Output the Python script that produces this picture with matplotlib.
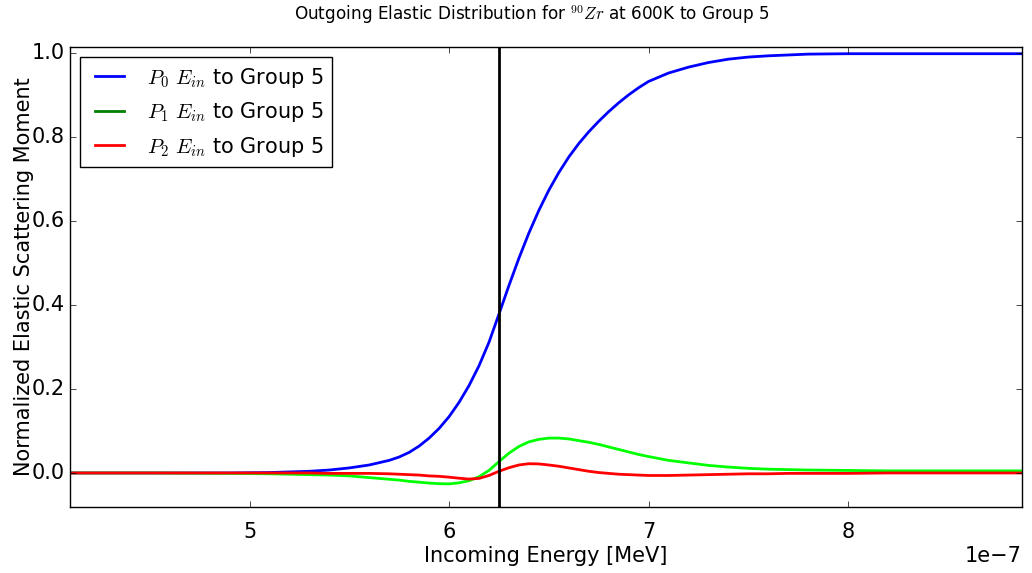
import matplotlib
matplotlib.use("Agg")
import matplotlib.pyplot as plt
from matplotlib.lines import Line2D
import numpy as np

plt.style.use("classic")
plt.rcParams["mathtext.fontset"] = "cm"
plt.rcParams["figure.facecolor"] = "white"
plt.rcParams["savefig.facecolor"] = "white"
plt.rcParams["font.size"] = 15
plt.rcParams["xtick.labelsize"] = 15
plt.rcParams["ytick.labelsize"] = 15
plt.rcParams["axes.labelsize"] = 15
plt.rcParams["xtick.major.pad"] = 11

# Incoming energy grid, in units of 1e-7 MeV
energy_e7 = [4.10, 4.50, 4.90, 5.10, 5.30, 5.40, 5.50, 5.60, 5.70, 5.75,
             5.80, 5.85, 5.90, 5.95, 6.00, 6.05, 6.10, 6.15, 6.20, 6.25,
             6.30, 6.35, 6.40, 6.45, 6.50, 6.55, 6.60, 6.65, 6.70, 6.75,
             6.80, 6.85, 6.90, 6.95, 7.00, 7.10, 7.20, 7.30, 7.40, 7.50,
             7.60, 7.70, 7.80, 8.00, 8.20, 8.40, 8.60, 8.87]

# Legendre moments of the elastic transfer into group 5
p0_moment = [0.000, 0.000, 0.000, 0.001, 0.004, 0.007, 0.012, 0.019, 0.030, 0.038,
             0.049, 0.064, 0.083, 0.106, 0.134, 0.168, 0.208, 0.255, 0.311, 0.378,
             0.446, 0.511, 0.571, 0.625, 0.673, 0.715, 0.752, 0.784, 0.812, 0.837,
             0.860, 0.881, 0.900, 0.917, 0.932, 0.952, 0.966, 0.977, 0.985, 0.990,
             0.993, 0.995, 0.997, 0.998, 0.998, 0.998, 0.998, 0.998]
p1_moment = [0.000, 0.000, -0.001, -0.002, -0.004, -0.005, -0.007, -0.011, -0.015, -0.017,
             -0.020, -0.022, -0.024, -0.0255, -0.026, -0.0235, -0.0185, -0.009, 0.006, 0.027,
             0.047, 0.063, 0.074, 0.080, 0.083, 0.083, 0.081, 0.077, 0.073, 0.068,
             0.062, 0.056, 0.050, 0.044, 0.039, 0.030, 0.024, 0.018, 0.014, 0.011,
             0.009, 0.008, 0.007, 0.006, 0.005, 0.005, 0.005, 0.005]
p2_moment = [0.000, 0.000, 0.000, 0.000, 0.000, -0.001, -0.001, -0.001, -0.002, -0.003,
             -0.004, -0.005, -0.007, -0.008, -0.010, -0.0125, -0.0145, -0.013, -0.006, 0.004,
             0.0125, 0.019, 0.022, 0.0215, 0.019, 0.016, 0.012, 0.008, 0.004, 0.001,
             -0.001, -0.003, -0.004, -0.005, -0.006, -0.006, -0.005, -0.004, -0.003, -0.002,
             -0.002, -0.001, -0.001, -0.001, 0.000, 0.000, 0.000, 0.000]

group_boundary_e7 = 6.25

energy = np.array(energy_e7) * 1e-7

fig = plt.figure(figsize=(10.32, 5.73), dpi=100)
ax = fig.add_axes([0.0678, 0.1152, 0.9222, 0.8028])

ax.plot(energy, p0_moment, color="#0000ff", lw=2)
ax.plot(energy, p1_moment, color="#00ff00", lw=2)
ax.plot(energy, p2_moment, color="#ff0000", lw=2)
ax.axvline(group_boundary_e7 * 1e-7, color="black", lw=2)

ax.set_xlim(energy[0], energy[-1])
ax.set_ylim(-0.081, 1.014)
ax.set_xticks(np.array([5, 6, 7, 8]) * 1e-7)

ax.set_xlabel("Incoming Energy [MeV]", labelpad=3)
ax.set_ylabel("Normalized Elastic Scattering Moment", labelpad=-2)
fig.suptitle(r"Outgoing Elastic Distribution for $^{90}Zr$ at 600K to Group 5",
             fontsize=12.2, x=0.5155, y=0.995)

handles = [Line2D([], [], color="#0000ff", lw=2),
           Line2D([], [], color="#008000", lw=2),
           Line2D([], [], color="#ff0000", lw=2)]
labels = [r"$P_0\ E_{in}$ to Group 5",
          r"$P_1\ E_{in}$ to Group 5",
          r"$P_2\ E_{in}$ to Group 5"]
ax.legend(handles, labels, loc="upper left", fontsize=15, handletextpad=0.8)

fig.savefig("out.png", dpi=100)
